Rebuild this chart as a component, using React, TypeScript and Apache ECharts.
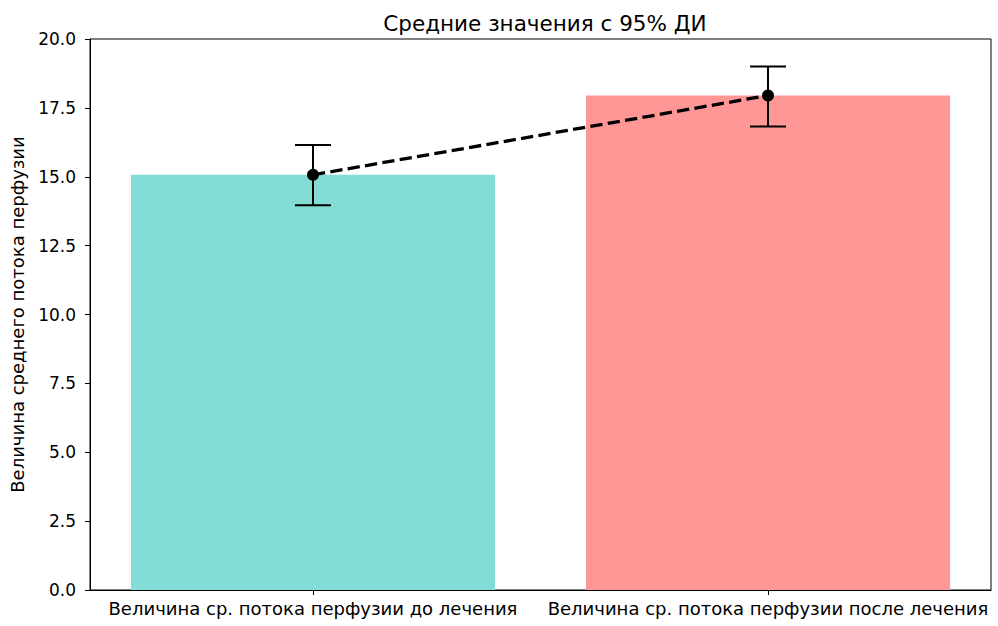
import React, { useEffect, useRef } from "react";
import * as echarts from "echarts";

const categories = [
  "Величина ср. потока перфузии до лечения",
  "Величина ср. потока перфузии после лечения",
];
const means = [15.07, 17.95];
const ciLow = [13.97, 16.82];
const ciHigh = [16.15, 19.0];
const barColors = ["#83DCD6", "#FF9797"];
const yTicks = [0, 2.5, 5, 7.5, 10, 12.5, 15, 17.5, 20];

const FONT = "DejaVu Sans";
const TICK_FS = 17;
const LABEL_FS = 18;
const TITLE_FS = 21.5;

export default function App() {
  const ref = useRef<HTMLDivElement>(null);
  useEffect(() => {
    if (!ref.current) return;
    const chart = echarts.init(ref.current, undefined, { renderer: "svg" });
    const idx = categories.map((_, i) => i);
    chart.setOption({
      animation: false,
      backgroundColor: "#ffffff",
      title: {
        text: "Средние значения с 95% ДИ",
        left: 540,
        textAlign: "center",
        top: 7,
        textStyle: { fontFamily: FONT, fontSize: TITLE_FS, fontWeight: "normal", color: "#000" },
      },
      grid: {
        left: 90,
        right: 7,
        top: 39,
        bottom: 36,
        show: true,
        borderColor: "#000",
        borderWidth: 1,
        backgroundColor: "transparent",
      },
      xAxis: {
        type: "value",
        min: -0.49,
        max: 1.49,
        splitLine: { show: false },
        axisLine: { show: true, onZero: false, lineStyle: { color: "#000", width: 1 } },
        axisTick: { show: true, customValues: idx, length: 5, lineStyle: { color: "#000" } },
        axisLabel: {
          customValues: idx,
          formatter: (v: number) => categories[Math.round(v)],
          fontFamily: FONT,
          fontSize: LABEL_FS,
          color: "#000",
          margin: 9,
        },
      },
      yAxis: {
        type: "value",
        min: 0,
        max: 20,
        interval: 2.5,
        name: "Величина среднего потока перфузии",
        nameLocation: "middle",
        nameGap: 64,
        nameTextStyle: { fontFamily: FONT, fontSize: LABEL_FS, color: "#000" },
        splitLine: { show: false },
        axisLine: { show: true, onZero: false, lineStyle: { color: "#000", width: 1 } },
        axisTick: { show: true, length: 5, lineStyle: { color: "#000" } },
        axisLabel: {
          formatter: (v: number) => (yTicks.includes(v) ? v.toFixed(1) : ""),
          fontFamily: FONT,
          fontSize: TICK_FS,
          color: "#000",
          margin: 14,
        },
      },
      series: [
        {
          type: "custom",
          data: means.map((m, i) => [i, m]),
          renderItem: (params: any, api: any) => {
            const i = api.value(0);
            const top = api.coord([i, api.value(1)]);
            const base = api.coord([i, 0]);
            const w = api.size([0.8, 0])[0];
            return {
              type: "rect",
              shape: { x: top[0] - w / 2, y: top[1], width: w, height: base[1] - top[1] },
              style: { fill: barColors[params.dataIndex] },
            };
          },
          z: 1,
        },
        {
          type: "custom",
          data: means.map((_, i) => [i, ciLow[i], ciHigh[i]]),
          renderItem: (params: any, api: any) => {
            const i = api.value(0);
            const lo = api.coord([i, api.value(1)]);
            const hi = api.coord([i, api.value(2)]);
            const cap = 18;
            const st = { stroke: "#000", lineWidth: 2 };
            return {
              type: "group",
              children: [
                { type: "line", shape: { x1: lo[0], y1: lo[1], x2: hi[0], y2: hi[1] }, style: st },
                { type: "line", shape: { x1: lo[0] - cap, y1: lo[1], x2: lo[0] + cap, y2: lo[1] }, style: st },
                { type: "line", shape: { x1: hi[0] - cap, y1: hi[1], x2: hi[0] + cap, y2: hi[1] }, style: st },
              ],
            };
          },
          z: 3,
        },
        {
          type: "line",
          data: means.map((m, i) => [i, m]),
          symbol: "circle",
          symbolSize: 12,
          itemStyle: { color: "#000" },
          lineStyle: { color: "#000", width: 3.3, type: [12.3, 5.3] },
          z: 4,
        },
      ],
    });
    return () => chart.dispose();
  }, []);
  return <div ref={ref} style={{ width: 998, height: 626, position: "absolute", left: 0, top: 0 }} />;
}
